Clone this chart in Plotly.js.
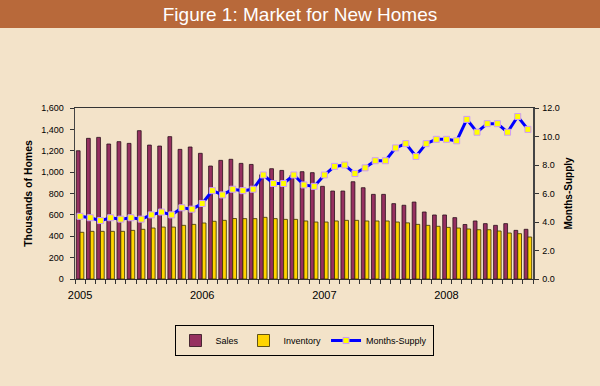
<!DOCTYPE html>
<html><head><meta charset="utf-8">
<script src="https://cdn.plot.ly/plotly-3.0.1.min.js"></script>
<style>html,body{margin:0;padding:0;background:#F3E3C9;} #chart{width:600px;height:386px;}</style>
</head><body><div id="chart"></div>
<script>
const months = [
 'Jan 2005','Feb 2005','Mar 2005','Apr 2005','May 2005','Jun 2005','Jul 2005','Aug 2005','Sep 2005','Oct 2005','Nov 2005','Dec 2005',
 'Jan 2006','Feb 2006','Mar 2006','Apr 2006','May 2006','Jun 2006','Jul 2006','Aug 2006','Sep 2006','Oct 2006','Nov 2006','Dec 2006',
 'Jan 2007','Feb 2007','Mar 2007','Apr 2007','May 2007','Jun 2007','Jul 2007','Aug 2007','Sep 2007','Oct 2007','Nov 2007','Dec 2007',
 'Jan 2008','Feb 2008','Mar 2008','Apr 2008','May 2008','Jun 2008','Jul 2008','Aug 2008','Sep 2008'
];
const yearLabels = ['2005','2006','2007','2008'];
const sales = [1200,1316,1325,1263,1285,1269,1388,1253,1244,1332,1213,1235,
 1176,1057,1110,1120,1082,1072,975,1032,1016,972,1004,995,
 867,823,823,910,854,792,792,705,690,720,627,599,
 599,574,510,543,518,502,518,455,465];
const inventory = [437,446,446,446,446,455,465,477,486,486,502,511,
 524,540,549,566,565,565,577,565,558,558,543,533,
 533,543,549,549,543,543,543,533,525,511,502,493,
 483,477,468,461,461,449,430,424,393];
const monthsSupply = [4.4,4.3,4.1,4.3,4.2,4.3,4.2,4.5,4.7,4.5,5.0,4.9,
 5.3,6.2,5.9,6.3,6.2,6.3,7.3,6.7,6.7,7.3,6.6,6.5,
 7.3,7.9,8.0,7.4,7.8,8.3,8.3,9.2,9.5,8.6,9.5,9.8,
 9.8,9.7,11.2,10.3,10.9,10.9,10.3,11.4,10.5];

const xPos = months.map((m, i) => i + 1);
const yearTickPos = yearLabels.map(y => months.indexOf('Jan ' + y) + 1);
const boundaries = months.map((m, i) => i + 0.5).concat([months.length + 0.5]);

const BG = '#F3E3C9';
const traces = [
 {type:'bar', name:'Sales', x:xPos, y:sales,
  marker:{color:'#963060', line:{color:'#2a0f1a', width:0.8}}},
 {type:'bar', name:'Inventory', x:xPos, y:inventory,
  marker:{color:'#FFD400', line:{color:'#3a3000', width:0.8}}},
 {type:'scatter', mode:'lines+markers', name:'Months-Supply', x:xPos, y:monthsSupply, yaxis:'y2',
  line:{color:'#0000FF', width:3},
  marker:{symbol:'square', size:6, color:'#FFFF00', line:{color:'#CC99FF', width:1}}}
];

const PW = 458, PH = 171, ML = 75, MR = 67, MT = 108, MB = 107;
const layout = {
 width:600, height:386,
 paper_bgcolor:BG, plot_bgcolor:BG,
 margin:{l:ML, r:MR, t:MT, b:MB, pad:0},
 font:{family:'Arial, "Liberation Sans", sans-serif', color:'#000', size:9},
 title:{text:'Figure 1: Market for New Homes', font:{color:'#ffffff', size:19},
  x:0.5, xref:'container', xanchor:'center', y:1 - 14.5/386, yref:'container', yanchor:'middle'},
 shapes:[{type:'rect', xref:'paper', yref:'paper', x0:-ML/PW, x1:1 + MR/PW,
  y0:1 + (MT - 28)/PH, y1:1 + MT/PH, fillcolor:'#B8693A', line:{width:0}, layer:'below'}],
 barmode:'group', bargap:0.26, bargroupgap:0,
 showlegend:true,
 xaxis:{range:[0.5, 45.5], tickmode:'array', tickvals:yearTickPos, ticktext:yearLabels,
  ticks:'', showline:true, linecolor:'#333', linewidth:1, mirror:true,
  showgrid:false, zeroline:false, tickfont:{size:11}, ticklabelstandoff:6,
  minor:{tickmode:'array', tickvals:boundaries, ticks:'outside', ticklen:4, tickcolor:'#333', tickwidth:1, showgrid:false}},
 yaxis:{range:[0,1600], dtick:200, tickformat:',d', ticks:'outside', ticklen:4, tickcolor:'#333',
  showline:true, linecolor:'#444', linewidth:1.5, showgrid:false, zeroline:false,
  ticklabelstandoff:4,
  title:{text:'Thousands of Homes', font:{size:10.5, weight:'bold'}, standoff:6}},
 yaxis2:{overlaying:'y', side:'right', range:[0,12], dtick:2, tickformat:'.1f',
  ticks:'outside', ticklen:4, tickcolor:'#333', showline:true, linecolor:'#444', linewidth:1.5,
  showgrid:false, zeroline:false, ticklabelstandoff:2,
  title:{text:'Months-Supply', font:{size:10, weight:'bold'}, standoff:6}},
 legend:{orientation:'h', x:0.5, xanchor:'center', yanchor:'top', itemwidth:30,
  bgcolor:BG, bordercolor:'#000', borderwidth:1, font:{size:9}, traceorder:'normal'},
 hovermode:false
};
layout.legend.y = -(325 - (MT + PH)) / PH;

Plotly.newPlot('chart', traces, layout, {displayModeBar:false, staticPlot:true});
</script>
</body></html>
